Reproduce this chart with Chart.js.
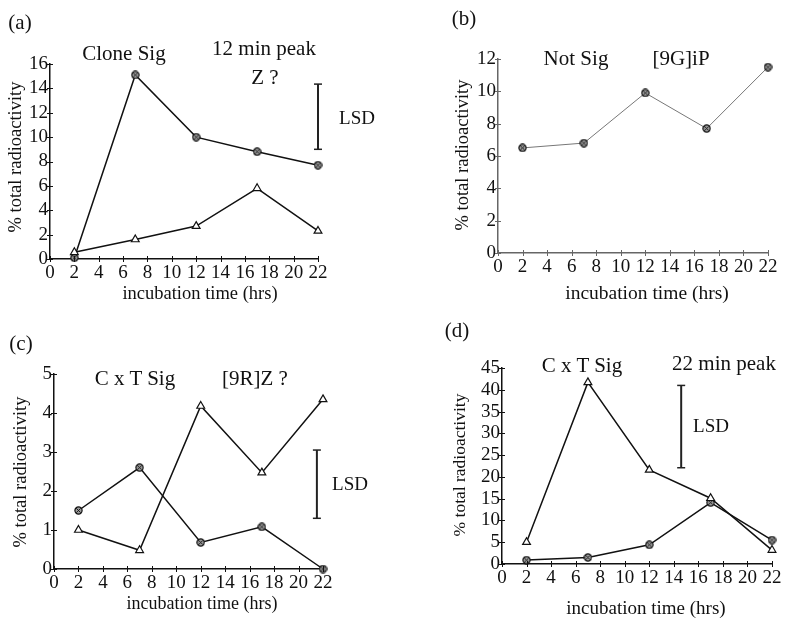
<!DOCTYPE html>
<html>
<head>
<meta charset="utf-8">
<script src="https://cdn.jsdelivr.net/npm/chart.js@4"></script>
<style>
  body { margin: 0; background: #fff; width: 785px; height: 619px; position: relative; overflow: hidden;
         font-family: "Liberation Serif", "Times New Roman", serif; color: #111; }
  canvas { position: absolute; }
  .txt { position: absolute; line-height: 1; white-space: nowrap; transform: translate(-50%, -50%); }
  .ytitle { transform: translate(-50%, -50%) rotate(-90deg); }
</style>
</head>
<body>
<canvas id="painelA" width="392" height="310" style="left:0;top:0"></canvas>
<canvas id="painelB" width="393" height="310" style="left:392px;top:0"></canvas>
<canvas id="painelC" width="392" height="309" style="left:0;top:310px"></canvas>
<canvas id="painelD" width="393" height="309" style="left:392px;top:310px"></canvas>

<div class="txt" style="left:20px;top:22px;font-size:21px">(a)</div>
<div class="txt" style="left:124px;top:53px;font-size:21px">Clone Sig</div>
<div class="txt" style="left:264px;top:48px;font-size:21px">12 min peak</div>
<div class="txt" style="left:265px;top:77px;font-size:21px">Z ?</div>
<div class="txt" style="left:357px;top:117px;font-size:19px">LSD</div>
<div class="txt" style="left:200px;top:293px;font-size:18.5px">incubation time (hrs)</div>
<div class="txt ytitle" style="left:15px;top:157px;font-size:18.5px">% total radioactivity</div>

<div class="txt" style="left:464px;top:18px;font-size:21px">(b)</div>
<div class="txt" style="left:576px;top:58px;font-size:21px">Not Sig</div>
<div class="txt" style="left:681px;top:58px;font-size:21px">[9G]iP</div>
<div class="txt" style="left:647px;top:293px;font-size:19.5px">incubation time (hrs)</div>
<div class="txt ytitle" style="left:462px;top:155px;font-size:18.5px">% total radioactivity</div>

<div class="txt" style="left:21px;top:343px;font-size:21px">(c)</div>
<div class="txt" style="left:135px;top:378px;font-size:21px">C x T Sig</div>
<div class="txt" style="left:255px;top:378px;font-size:21px">[9R]Z ?</div>
<div class="txt" style="left:350px;top:483px;font-size:19px">LSD</div>
<div class="txt" style="left:202px;top:603px;font-size:18px">incubation time (hrs)</div>
<div class="txt ytitle" style="left:20px;top:472px;font-size:18.5px">% total radioactivity</div>

<div class="txt" style="left:457px;top:330px;font-size:21px">(d)</div>
<div class="txt" style="left:582px;top:365px;font-size:21px">C x T Sig</div>
<div class="txt" style="left:724px;top:363px;font-size:21px">22 min peak</div>
<div class="txt" style="left:711px;top:425px;font-size:19px">LSD</div>
<div class="txt" style="left:646px;top:607px;font-size:19px">incubation time (hrs)</div>
<div class="txt ytitle" style="left:460px;top:465px;font-size:17.5px">% total radioactivity</div>

<script>
// incubation times (hrs)
const hours = [2, 7, 12, 17, 22];

// (a) 12 min peak
const aCircle = [0.1, 15.1, 10.0, 8.8, 7.7];
const aTriangle = [0.55, 1.6, 2.7, 5.8, 2.3];
const aLsd = [9.0, 14.35];
const aLsdAt = 22;

// (b) [9G]iP
const bCircle = [6.5, 6.8, 9.9, 7.7, 11.5];

// (c) [9R]Z ?
const cCircle = [1.5, 2.6, 0.68, 1.08, 0.0];
const cTriangle = [1.0, 0.48, 4.18, 2.47, 4.35];
const cLsd = [1.3, 3.05];
const cLsdAt = 21.5;

// (d) 22 min peak
const dTriangle = [5.0, 41.7, 21.6, 15.1, 3.2];
const dCircle = [0.9, 1.5, 4.4, 14.1, 5.5];
const dLsd = [22.1, 41.0];
const dLsdAt = 14.6;

// axis ranges
const xMax = 22, xStep = 2;
const yMaxA = 16, yStepA = 2;
const yMaxB = 12, yStepB = 2;
const yMaxC = 5, yStepC = 1;
const yMaxD = 45, yStepD = 5;

function pontos(values) {
    return values.map((v, i) => ({ x: hours[i], y: v }));
}

// circle with a cross, like the scanned marker
function marcaCirculo() {
    const c = document.createElement("canvas");
    c.width = 9; c.height = 9;
    const g = c.getContext("2d");
    g.beginPath();
    g.arc(4.5, 4.5, 3.6, 0, Math.PI * 2);
    g.fillStyle = "#9a9a9a";
    g.fill();
    g.lineWidth = 1.2;
    g.strokeStyle = "#111";
    g.stroke();
    g.beginPath();
    g.moveTo(2.3, 2.3); g.lineTo(6.7, 6.7);
    g.moveTo(6.7, 2.3); g.lineTo(2.3, 6.7);
    g.lineWidth = 0.9;
    g.stroke();
    return c;
}
const circulo = marcaCirculo();

function serieCirculo(values, cor, largura) {
    return {
        data: pontos(values),
        borderColor: cor,
        borderWidth: largura,
        pointStyle: circulo,
        pointRadius: 4,
        tension: 0,
        clip: false
    };
}

function serieTriangulo(values) {
    return {
        data: pontos(values),
        borderColor: "#111",
        borderWidth: 1.5,
        pointStyle: "triangle",
        pointRadius: 4.5,
        pointBackgroundColor: "#fff",
        pointBorderColor: "#111",
        pointBorderWidth: 1.2,
        tension: 0,
        clip: false
    };
}

function serieLsd(at, range) {
    return {
        data: [{ x: at, y: range[0] }, { x: at, y: range[1] }],
        borderColor: "#222",
        borderWidth: 2,
        pointStyle: "line",
        pointRadius: 4,
        pointBorderColor: "#222",
        pointBorderWidth: 1.5,
        clip: false
    };
}

// ticks crossing the axis lines
const marcasEixo = {
    id: "marcasEixo",
    afterDraw(chart) {
        const ctx = chart.ctx;
        const area = chart.chartArea;
        const cor = chart.options.plugins.marcasEixo.color;
        ctx.save();
        ctx.strokeStyle = cor;
        ctx.lineWidth = 1;
        ctx.beginPath();
        chart.scales.x.ticks.forEach(t => {
            const px = Math.round(chart.scales.x.getPixelForValue(t.value)) + 0.5;
            ctx.moveTo(px, area.bottom - 3);
            ctx.lineTo(px, area.bottom + 3);
        });
        chart.scales.y.ticks.forEach(t => {
            const py = Math.round(chart.scales.y.getPixelForValue(t.value)) + 0.5;
            ctx.moveTo(area.left - 3, py);
            ctx.lineTo(area.left + 3, py);
        });
        ctx.stroke();
        ctx.restore();
    }
};

function criarPainel(id, datasets, yMax, yStep, geo, corEixo) {
    const canvas = document.getElementById(id);
    return new Chart(canvas, {
        type: "line",
        data: { datasets: datasets },
        options: {
            responsive: false,
            animation: false,
            layout: { padding: { left: 0, top: geo.top, right: canvas.width - geo.right, bottom: 0 } },
            plugins: {
                legend: { display: false },
                tooltip: { enabled: false },
                marcasEixo: { color: corEixo }
            },
            scales: {
                x: {
                    type: "linear",
                    min: 0,
                    max: xMax,
                    grid: { display: false, drawTicks: false },
                    border: { display: true, color: corEixo, width: 1.5 },
                    ticks: {
                        stepSize: xStep,
                        autoSkip: false,
                        maxRotation: 0,
                        padding: 3,
                        color: "#111",
                        font: { family: "Liberation Serif", size: 19 }
                    },
                    afterFit: s => { s.height = canvas.height - geo.bottom; }
                },
                y: {
                    min: 0,
                    max: yMax,
                    grid: { display: false, drawTicks: false },
                    border: { display: true, color: corEixo, width: 1.5 },
                    ticks: {
                        stepSize: yStep,
                        autoSkip: false,
                        padding: 2,
                        color: "#111",
                        font: { family: "Liberation Serif", size: 19 }
                    },
                    afterFit: s => { s.width = geo.left; }
                }
            }
        },
        plugins: [marcasEixo]
    });
}

criarPainel("painelA", [
    serieLsd(aLsdAt, aLsd),
    serieTriangulo(aTriangle),
    serieCirculo(aCircle, "#111", 1.5)
], yMaxA, yStepA, { left: 50, top: 64, right: 318, bottom: 259 }, "#111");

criarPainel("painelB", [
    serieCirculo(bCircle, "#777", 1)
], yMaxB, yStepB, { left: 106, top: 59, right: 376, bottom: 253 }, "#666");

criarPainel("painelC", [
    serieLsd(cLsdAt, cLsd),
    serieTriangulo(cTriangle),
    serieCirculo(cCircle, "#111", 1.5)
], yMaxC, yStepC, { left: 54, top: 64, right: 323, bottom: 259 }, "#111");

criarPainel("painelD", [
    serieLsd(dLsdAt, dLsd),
    serieTriangulo(dTriangle),
    serieCirculo(dCircle, "#111", 1.5)
], yMaxD, yStepD, { left: 110, top: 58, right: 380, bottom: 254 }, "#111");
</script>
</body>
</html>
